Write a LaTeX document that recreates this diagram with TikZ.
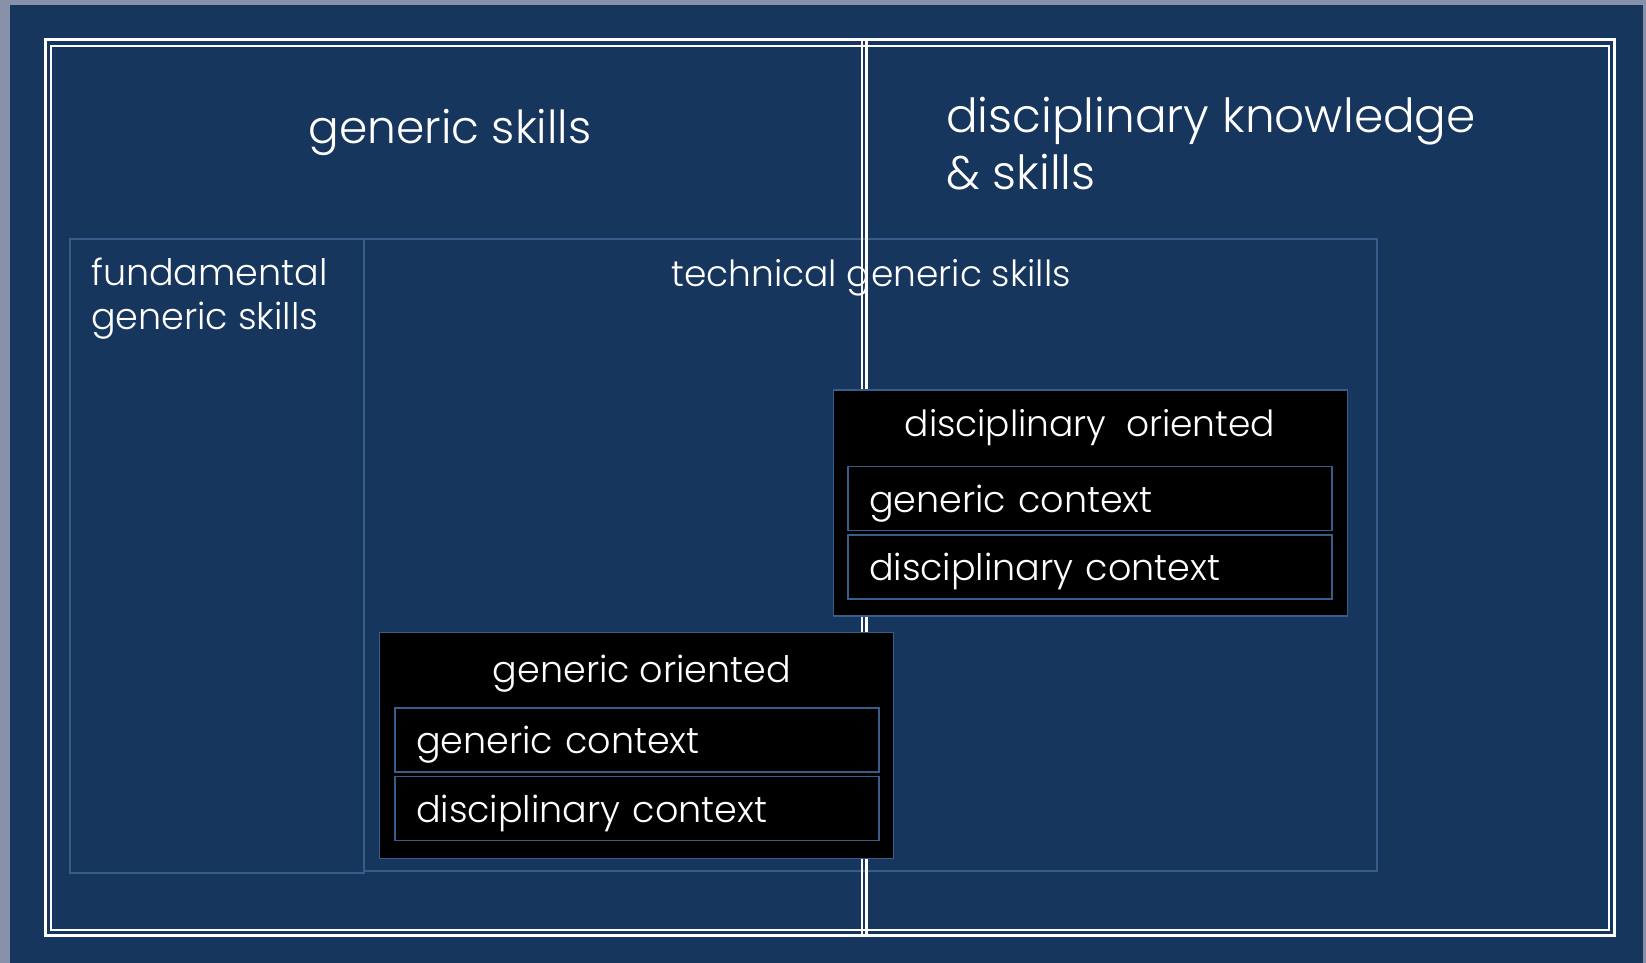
\documentclass[tikz,border=0pt]{standalone}
\usepackage{fontspec}
\setmainfont{Poppins}[UprightFont=* Light]
\usetikzlibrary{positioning}
\definecolor{slate}{RGB}{136,145,170}
\definecolor{navy}{HTML}{17365D}
\definecolor{edge}{HTML}{385D8A}

\begin{document}
\begin{tikzpicture}[x=1pt,y=-1pt,node distance=3pt,
    area/.style={draw=edge,line width=1.5pt,inner sep=0pt},
    orient/.style={draw=edge,line width=1.5pt,fill=black,inner sep=0pt,minimum width=514pt,minimum height=226pt},
    ctx/.style={draw=edge,line width=1.5pt,fill=black,text=white,font=\fontsize{36.5}{44}\selectfont,
      text width=442pt,inner xsep=21pt,inner ysep=0pt,align=left,text height=42pt,text depth=15pt,minimum height=64pt},
    lbl/.style={text=white,inner sep=0pt},
    frame/.style={draw=white,line width=3pt}]
   \useasboundingbox (0,0) rectangle (1646,963);
   \fill[slate] (0,0) rectangle (1646,963);
   \fill[navy] (10,5) rectangle (1643,963);
   % skill areas
   \node[area,minimum width=294pt,minimum height=634pt] (fund) at (217,556) {};
   \node[area,minimum width=1013pt,minimum height=632pt] (tech) at (870.5,555) {};
   \node[lbl,anchor=base,font=\fontsize{45.5}{54}\selectfont] (gen) at (450,143) {generic skills};
   \node[lbl,anchor=base west,align=left,font=\fontsize{47}{56}\selectfont] (disc) at (946,189) {disciplinary knowledge\\\& skills};
   \node[lbl,anchor=base west,align=left,font=\fontsize{36.5}{44}\selectfont] (fundt) at (91,329) {fundamental\\generic skills};
   \node[lbl,anchor=base,font=\fontsize{36}{44}\selectfont] (techt) at (871,286) {technical generic skills};
   % double frame
   \draw[frame] (45,40) rectangle (1614,935);
   \draw[frame,line width=2pt] (50.5,46) rectangle (1608.5,929.5);
   \draw[frame,line width=2.5pt] (862,40) -- (862,935);
   \draw[frame,line width=2.5pt] (866.5,40) -- (866.5,935);
   % oriented boxes
   \node[orient] (disco) at (1090.5,503) {};
   \node[ctx] (dgc) at (1090,498.5) {generic context};
   \node[ctx,below=of dgc] (ddc) {disciplinary context};
   \node[lbl,anchor=base,font=\fontsize{36}{44}\selectfont] (discot) at (1090,436) {disciplinary~~oriented};
   \node[orient] (geno) at (636.5,745.5) {};
   \node[ctx] (ggc) at (637,740) {generic context};
   \node[ctx,below=of ggc] (gdc) {disciplinary context};
   \node[lbl,anchor=base,font=\fontsize{36.5}{44}\selectfont] (genot) at (642,682) {generic oriented};
\end{tikzpicture}
\end{document}
